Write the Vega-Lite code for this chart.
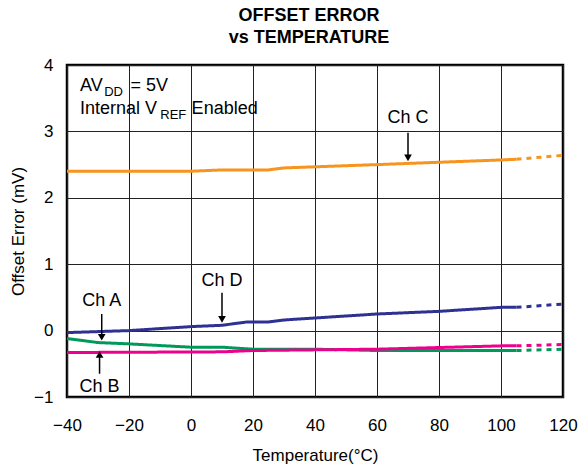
{
  "$schema": "https://vega.github.io/schema/vega-lite/v6.json",
  "width": 496,
  "height": 332,
  "autosize": {"type": "none"},
  "padding": {"left": 67, "top": 65, "right": 16, "bottom": 71},
  "background": "white",
  "config": {
    "font": "Liberation Sans",
    "view": {"stroke": "black", "strokeWidth": 2.5},
    "axis": {"gridColor": "#222", "gridOpacity": 1, "gridWidth": 1, "domain": false, "ticks": false, "labelFontSize": 17, "labelColor": "black", "titleFontSize": 17, "titleFontWeight": "normal", "titleColor": "black", "labelFont": "Liberation Sans", "titleFont": "Liberation Sans", "labelFlush": false, "labelOverlap": false}
  },
  "title": {"text": ["OFFSET ERROR", "vs TEMPERATURE"], "fontSize": 18, "fontWeight": "bold", "font": "Liberation Sans", "color": "black", "anchor": "middle", "offset": 9, "lineHeight": 22, "dx": -6},
  "datasets": {
    "lines": [
      {"ch": "C", "seg": "solid", "t": -40, "v": 2.4}, {"ch": "C", "seg": "solid", "t": 0, "v": 2.4}, {"ch": "C", "seg": "solid", "t": 10, "v": 2.42}, {"ch": "C", "seg": "solid", "t": 25, "v": 2.42}, {"ch": "C", "seg": "solid", "t": 30, "v": 2.45}, {"ch": "C", "seg": "solid", "t": 60, "v": 2.5}, {"ch": "C", "seg": "solid", "t": 100, "v": 2.57}, {"ch": "C", "seg": "solid", "t": 105, "v": 2.58},
      {"ch": "C", "seg": "dash", "t": 105, "v": 2.58}, {"ch": "C", "seg": "dash", "t": 120, "v": 2.64},
      {"ch": "D", "seg": "solid", "t": -40, "v": -0.03}, {"ch": "D", "seg": "solid", "t": -20, "v": 0.0}, {"ch": "D", "seg": "solid", "t": 0, "v": 0.06}, {"ch": "D", "seg": "solid", "t": 10, "v": 0.08}, {"ch": "D", "seg": "solid", "t": 18, "v": 0.13}, {"ch": "D", "seg": "solid", "t": 25, "v": 0.13}, {"ch": "D", "seg": "solid", "t": 30, "v": 0.16}, {"ch": "D", "seg": "solid", "t": 60, "v": 0.25}, {"ch": "D", "seg": "solid", "t": 80, "v": 0.29}, {"ch": "D", "seg": "solid", "t": 100, "v": 0.35}, {"ch": "D", "seg": "solid", "t": 105, "v": 0.35},
      {"ch": "D", "seg": "dash", "t": 105, "v": 0.35}, {"ch": "D", "seg": "dash", "t": 120, "v": 0.4},
      {"ch": "A", "seg": "solid", "t": -40, "v": -0.12}, {"ch": "A", "seg": "solid", "t": -30, "v": -0.18}, {"ch": "A", "seg": "solid", "t": -20, "v": -0.2}, {"ch": "A", "seg": "solid", "t": 0, "v": -0.25}, {"ch": "A", "seg": "solid", "t": 10, "v": -0.25}, {"ch": "A", "seg": "solid", "t": 20, "v": -0.28}, {"ch": "A", "seg": "solid", "t": 40, "v": -0.28}, {"ch": "A", "seg": "solid", "t": 60, "v": -0.3}, {"ch": "A", "seg": "solid", "t": 105, "v": -0.3},
      {"ch": "A", "seg": "dash", "t": 105, "v": -0.3}, {"ch": "A", "seg": "dash", "t": 120, "v": -0.28},
      {"ch": "B", "seg": "solid", "t": -40, "v": -0.33}, {"ch": "B", "seg": "solid", "t": 10, "v": -0.32}, {"ch": "B", "seg": "solid", "t": 20, "v": -0.3}, {"ch": "B", "seg": "solid", "t": 60, "v": -0.28}, {"ch": "B", "seg": "solid", "t": 100, "v": -0.23}, {"ch": "B", "seg": "solid", "t": 105, "v": -0.23},
      {"ch": "B", "seg": "dash", "t": 105, "v": -0.23}, {"ch": "B", "seg": "dash", "t": 120, "v": -0.21}
    ],
    "labels": [
      {"t": 70, "v": 3.13, "text": "Ch C"},
      {"t": 10, "v": 0.67, "text": "Ch D"},
      {"t": -28.8, "v": 0.37, "text": "Ch A"},
      {"t": -29.5, "v": -0.92, "text": "Ch B"}
    ],
    "arrows": [
      {"t": 70, "v": 2.98, "v2": 2.6, "dir": "down"},
      {"t": 10, "v": 0.57, "v2": 0.17, "dir": "down"},
      {"t": -28.8, "v": 0.25, "v2": -0.1, "dir": "down"},
      {"t": -29.5, "v": -0.65, "v2": -0.36, "dir": "up"}
    ],
    "main": [
      {"t": -35.8, "v": 3.61, "text": "AV"},
      {"t": -19.5, "v": 3.61, "text": "= 5V"},
      {"t": -35.8, "v": 3.26, "text": "Internal V"},
      {"t": 0.2, "v": 3.26, "text": "Enabled"}
    ],
    "subs": [
      {"t": -28.0, "v": 3.53, "text": "DD"},
      {"t": -9.9, "v": 3.19, "text": "REF"}
    ]
  },
  "layer": [
    {
      "data": {"name": "lines"},
      "mark": {"type": "line", "strokeWidth": 3},
      "encoding": {
        "x": {"field": "t", "type": "quantitative", "scale": {"domain": [-40, 120], "nice": false}, "axis": {"values": [-40, -20, 0, 20, 40, 60, 80, 100, 120], "format": "d", "title": "Temperature(°C)", "labelPadding": 20, "titlePadding": 14}},
        "y": {"field": "v", "type": "quantitative", "scale": {"domain": [-1, 4], "nice": false}, "axis": {"values": [-1, 0, 1, 2, 3, 4], "format": "d", "title": "Offset Error (mV)", "labelPadding": 14, "titlePadding": 6}},
        "color": {"field": "ch", "type": "nominal", "scale": {"domain": ["A", "B", "C", "D"], "range": ["#00995A", "#EC008C", "#F7941D", "#2E3192"]}, "legend": null},
        "strokeDash": {"field": "seg", "type": "nominal", "scale": {"domain": ["solid", "dash"], "range": [[1, 0], [5, 5]]}, "legend": null},
        "detail": {"field": "ch"}
      }
    },
    {
      "data": {"name": "labels"},
      "mark": {"type": "text", "fontSize": 18, "align": "center", "baseline": "alphabetic", "color": "black"},
      "encoding": {"x": {"field": "t", "type": "quantitative"}, "y": {"field": "v", "type": "quantitative"}, "text": {"field": "text"}}
    },
    {
      "data": {"name": "arrows"},
      "mark": {"type": "rule", "strokeWidth": 1.5, "color": "black"},
      "encoding": {"x": {"field": "t", "type": "quantitative"}, "y": {"field": "v", "type": "quantitative"}, "y2": {"field": "v2"}}
    },
    {
      "data": {"name": "arrows"},
      "mark": {"type": "point", "filled": true, "color": "black", "opacity": 1, "size": 60},
      "encoding": {"x": {"field": "t", "type": "quantitative"}, "y": {"field": "v2", "type": "quantitative"},
        "shape": {"field": "dir", "type": "nominal", "scale": {"domain": ["down", "up"], "range": ["triangle-down", "triangle-up"]}, "legend": null}}
    },
    {
      "data": {"name": "main"},
      "mark": {"type": "text", "fontSize": 18, "align": "left", "baseline": "alphabetic", "color": "black"},
      "encoding": {"x": {"field": "t", "type": "quantitative"}, "y": {"field": "v", "type": "quantitative"}, "text": {"field": "text"}}
    },
    {
      "data": {"name": "subs"},
      "mark": {"type": "text", "fontSize": 13, "align": "left", "baseline": "alphabetic", "color": "black"},
      "encoding": {"x": {"field": "t", "type": "quantitative"}, "y": {"field": "v", "type": "quantitative"}, "text": {"field": "text"}}
    }
  ]
}
